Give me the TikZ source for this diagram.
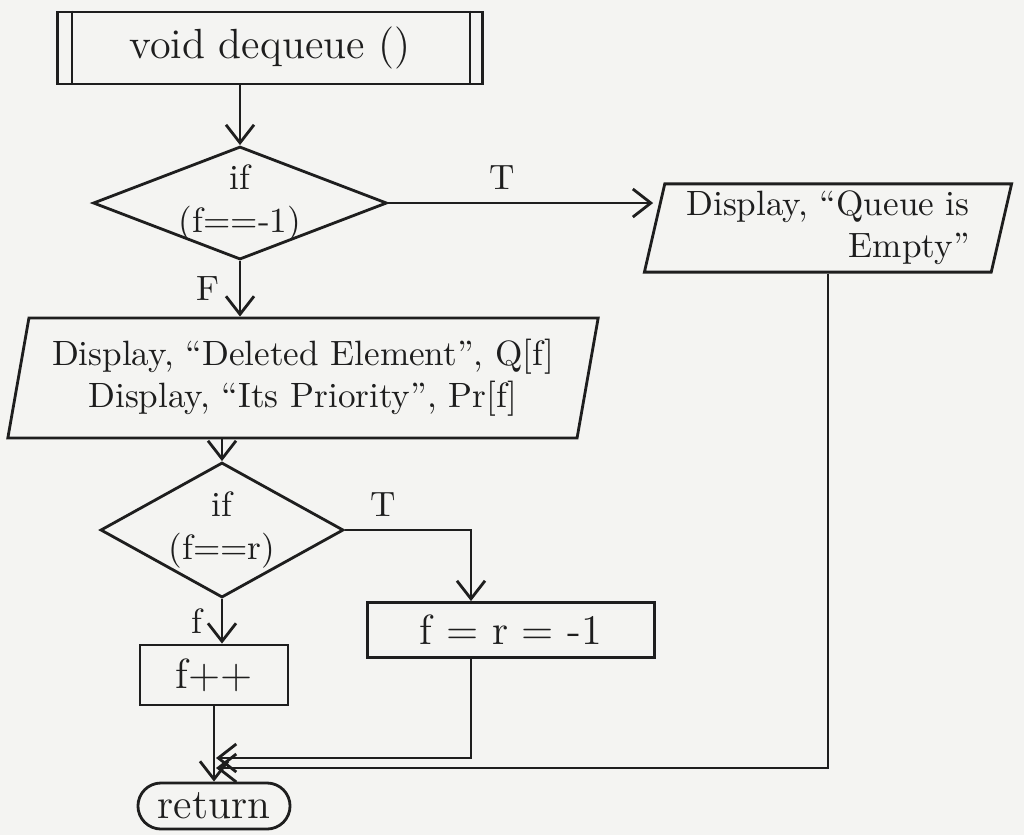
\documentclass[tikz,border=0pt]{standalone}
\usepackage{tikz}
\usetikzlibrary{arrows.meta,positioning,shapes.geometric}
\definecolor{paper}{HTML}{F4F4F2}
\definecolor{pencil}{HTML}{1E1E1E}

\begin{document}
\begin{tikzpicture}[x=0.01cm,y=-0.01cm,pencil,>={Straight Barb[length=1.8mm,width=2.8mm]},
  proc/.style={draw,thick,inner sep=2pt,font=\large},
  decision/.style={draw,thick,diamond,inner sep=0pt,align=center},
  io/.style={draw,thick,trapezium,trapezium left angle=77,trapezium right angle=103,trapezium stretches body,inner sep=2pt},
  term/.style={draw,thick,rounded corners=2.3mm,inner sep=2pt,font=\large},
  flow/.style={->,thick}]
  \fill[paper] (0,0) rectangle (1024,835);
  \useasboundingbox (0,0) rectangle (1024,835);

  \node[proc,minimum width=4.25cm,minimum height=7.2mm] (start) at (270,48) {void dequeue ()};
  \draw[thick] ([xshift=1.6mm]start.north west) -- ([xshift=1.6mm]start.south west);
  \draw[thick] ([xshift=-1.4mm]start.north east) -- ([xshift=-1.4mm]start.south east);

  \node[decision,shape aspect=2.6,inner sep=-1pt] (d1) at (240,203) {if\\(f==-1)};
  \node[io,minimum width=3.67cm,minimum height=8.8mm,align=right] (empty) at (828,228) {Display, ``Queue is\\Empty''};
  \node[io,minimum width=5.9cm,minimum height=12mm,align=center] (out1) at (303,378) {Display, ``Deleted Element'', Q[f]\\Display, ``Its Priority'', Pr[f]};
  \node[decision,shape aspect=1.8] (d2) at (222,530) {if\\(f==r)};
  \node[proc,minimum width=2.87cm,minimum height=5.5mm] (reset) at (511,630) {f = r = -1};
  \node[proc,minimum width=1.48cm,minimum height=6mm] (inc) at (214,675) {f++};
  \node[term,minimum width=1.52cm,minimum height=4.6mm] (ret) at (214,806) {return};
  \coordinate (join1) at (216,758);
  \coordinate (join2) at (216,768);

  \draw[flow] (start.south -| d1.north) -- (d1.north);
  \draw[flow] (d1.east) -- node[above,pos=0.43]{T} (d1.east -| empty.west);
  \draw[flow] (d1.south) -- node[left=2pt]{F} (d1.south |- out1.north);
  \draw[flow] (out1.south -| d2.north) -- (d2.north);
  \draw[flow] (d2.east) -| node[above,pos=0.15]{T} ([xshift=-4mm]reset.north);
  \draw[flow] (d2.south) -- node[left=2pt]{f} (d2.south |- inc.north);
  \draw[flow] (inc.south) -- (ret.north);
  \draw[flow] ([xshift=-4mm]reset.south) |- (join1);
  \draw[flow] (empty.south) |- (join2);
\end{tikzpicture}
\end{document}
